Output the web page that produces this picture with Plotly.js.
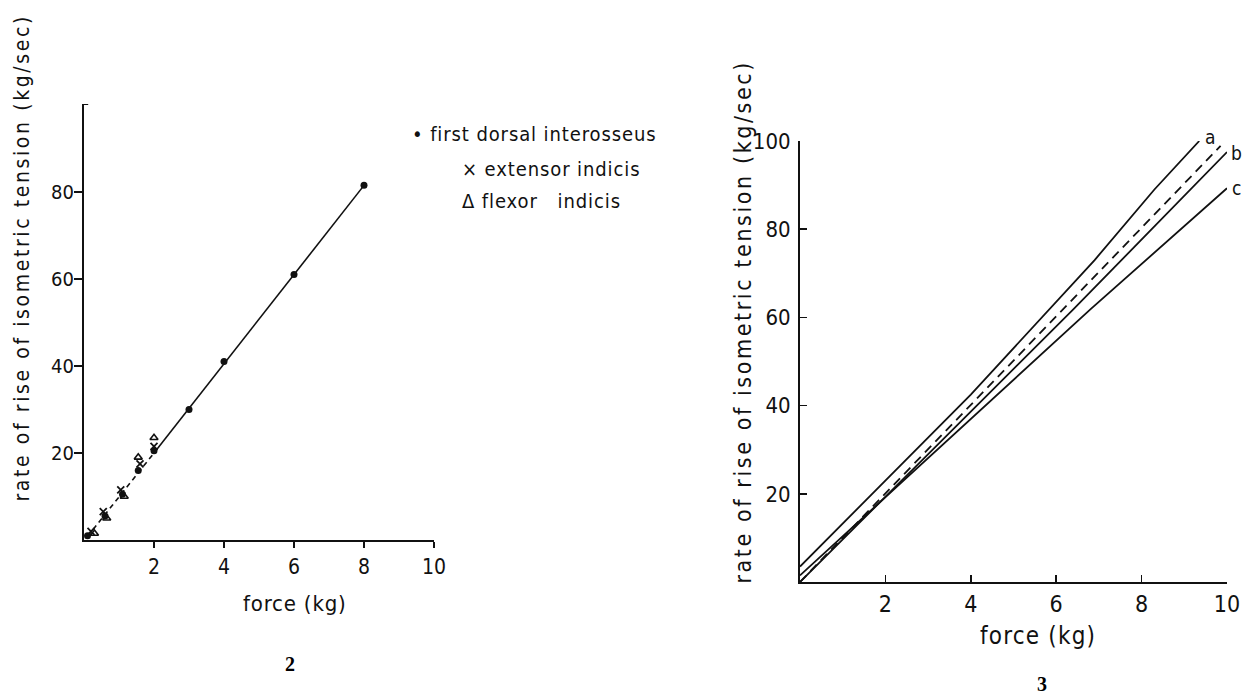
<!DOCTYPE html>
<html>
<head>
<meta charset="utf-8">
<script src="https://cdn.plot.ly/plotly-3.0.1.min.js"></script>
<style>
  html, body { margin: 0; padding: 0; background: #fff; }
  #fig { width: 1242px; height: 697px; }
</style>
</head>
<body>
<div id="fig"></div>
<script>
// ---- Figure 2: rate of rise vs force, three finger muscles ----
const fdiX  = [0.1, 0.6, 1.1, 1.55, 2.0, 3.0, 4.0, 6.0, 8.0];
const fdiY  = [1.0, 5.5, 10.5, 16.0, 20.5, 30.0, 41.0, 61.0, 81.5];
const extX  = [0.2, 0.55, 1.05, 1.6, 2.0];
const extY  = [2.0, 6.5, 11.5, 17.5, 21.5];
const flexX = [0.3, 0.65, 1.15, 1.55, 2.0];
const flexY = [1.5, 5.0, 10.0, 19.0, 23.5];
// regression line: dashed at low force, solid above
const fitDashX  = [0.1, 2.0];
const fitDashY  = [0.8, 20.0];
const fitSolidX = [2.0, 8.0];
const fitSolidY = [20.0, 81.5];

// ---- Figure 3: fitted relations a, b, c and the pooled (dashed) line ----
const lineAX = [0, 4.0, 6.9, 8.3, 9.35];
const lineAY = [3.5, 42.5, 73.0, 89.0, 100.0];
const lineBX = [0, 6.4, 10.0];
const lineBY = [0, 61.8, 97.5];
const lineCX = [0, 6.8, 10.0];
const lineCY = [1.5, 61.8, 89.3];
const meanX  = [0, 6.17, 9.85];
const meanY  = [0, 61.8, 98.9];

const xTicks2 = [2, 4, 6, 8, 10];
const yTicks2 = [20, 40, 60, 80];
const xTicks3 = [2, 4, 6, 8, 10];
const yTicks3 = [20, 40, 60, 80, 100];

const legendLabels = ['first dorsal interosseus', 'extensor indicis', 'flexor   indicis'];
const legendSymbols = ['\u2022', '\u00d7', '\u0394'];
const curveLabels = ['a', 'b', 'c'];
const yTitle = 'rate of rise of isometric tension (kg/sec)';
const xTitle = 'force (kg)';

const FONT = '"DejaVu Sans Condensed", "Liberation Sans Narrow", sans-serif';
const SERIF = '"Liberation Serif", "Times New Roman", serif';
const INK = '#111';

const W = 1242, H = 697;
const px = v => v / W;
const py = v => 1 - v / H;

const traces = [
  { x: fitDashX, y: fitDashY, xaxis: 'x', yaxis: 'y', mode: 'lines',
    line: { color: INK, width: 1.6, dash: '5px,4px' }, name: 'fit (low)' },
  { x: fitSolidX, y: fitSolidY, xaxis: 'x', yaxis: 'y', mode: 'lines',
    line: { color: INK, width: 1.6 }, name: 'fit' },
  { x: fdiX, y: fdiY, xaxis: 'x', yaxis: 'y', mode: 'markers', name: legendLabels[0],
    marker: { symbol: 'circle', size: 7, color: INK } },
  { x: extX, y: extY, xaxis: 'x', yaxis: 'y', mode: 'markers', name: legendLabels[1],
    marker: { symbol: 'x-thin-open', size: 7, color: INK, line: { color: INK, width: 1.8 } } },
  { x: flexX, y: flexY, xaxis: 'x', yaxis: 'y', mode: 'markers', name: legendLabels[2],
    marker: { symbol: 'triangle-up-open', size: 7, color: INK, line: { color: INK, width: 1.6 } } },

  { x: lineAX, y: lineAY, xaxis: 'x2', yaxis: 'y2', mode: 'lines', name: 'a',
    line: { color: INK, width: 1.8 } },
  { x: meanX, y: meanY, xaxis: 'x2', yaxis: 'y2', mode: 'lines', name: 'pooled',
    line: { color: INK, width: 1.8, dash: '9px,6px' } },
  { x: lineBX, y: lineBY, xaxis: 'x2', yaxis: 'y2', mode: 'lines', name: 'b',
    line: { color: INK, width: 1.8 } },
  { x: lineCX, y: lineCY, xaxis: 'x2', yaxis: 'y2', mode: 'lines', name: 'c',
    line: { color: INK, width: 1.8 } }
];

const axisCommon = {
  showgrid: false, zeroline: false, showline: true,
  linecolor: INK, linewidth: 2, tickcolor: INK, tickwidth: 1.6,
  tickmode: 'array', fixedrange: true
};

function note(text, x, y, size, opts) {
  return Object.assign({
    text: text, xref: 'paper', yref: 'paper', x: px(x), y: py(y),
    showarrow: false, xanchor: 'center', yanchor: 'middle',
    font: { family: FONT, size: size, color: INK }
  }, opts || {});
}

// extra tracking (px) for the lettering, by annotation index
const tracking = { 0: 2.6, 1: 0.8, 2: 2.6, 3: 1.2, 4: 0.9, 5: 0.9, 6: 0.9 };

const layout = {
  width: W, height: H,
  margin: { l: 0, r: 0, t: 0, b: 0 },
  paper_bgcolor: '#fff', plot_bgcolor: 'rgba(0,0,0,0)',
  showlegend: false,
  font: { family: FONT, color: INK },
  xaxis: Object.assign({}, axisCommon, {
    domain: [px(84), px(434)], range: [0, 10], anchor: 'y',
    tickvals: xTicks2, ticktext: xTicks2.map(String),
    ticks: 'outside', ticklen: 6, ticklabelstandoff: 1,
    tickfont: { family: FONT, size: 21, color: INK }
  }),
  yaxis: Object.assign({}, axisCommon, {
    domain: [py(540), py(104)], range: [0, 100.2], anchor: 'x',
    tickvals: yTicks2, ticktext: yTicks2.map(String),
    ticks: 'outside', ticklen: 8, ticklabelstandoff: -4,
    tickfont: { family: FONT, size: 20, color: INK }
  }),
  xaxis2: Object.assign({}, axisCommon, {
    domain: [px(800), px(1227)], range: [0, 10], anchor: 'y2',
    tickvals: xTicks3, ticktext: xTicks3.map(String),
    ticks: 'inside', ticklen: 7, ticklabelstandoff: 0,
    tickfont: { family: FONT, size: 23, color: INK }
  }),
  yaxis2: Object.assign({}, axisCommon, {
    domain: [py(582), py(141)], range: [0, 100], anchor: 'x2',
    tickvals: yTicks3, ticktext: yTicks3.map(String),
    ticks: 'inside', ticklen: 7, ticklabelstandoff: 3,
    tickfont: { family: FONT, size: 22, color: INK }
  }),
  shapes: [
    // cap at the top of the left vertical axis
    { type: 'line', xref: 'x', yref: 'y', x0: -0.12, x1: 0.12, y0: 100.2, y1: 100.2,
      line: { color: INK, width: 2 } }
  ],
  annotations: [
    // axis titles
    note(yTitle, 22, 258, 21, { textangle: -90 }),
    note(xTitle, 295, 603, 22),
    note(yTitle, 743, 322, 23, { textangle: -90 }),
    note(xTitle, 1038, 636, 24),
    // key for figure 2
    note(legendSymbols[0] + ' ' + legendLabels[0], 410, 134, 20, { xanchor: 'left', align: 'left' }),
    note(legendSymbols[1] + ' ' + legendLabels[1], 460, 169, 20, { xanchor: 'left', align: 'left' }),
    note(legendSymbols[2] + ' ' + legendLabels[2], 460, 201, 20, { xanchor: 'left', align: 'left' }),
    // curve labels for figure 3
    note(curveLabels[0], 1210, 137, 19),
    note(curveLabels[1], 1236, 153, 19),
    note(curveLabels[2], 1236, 188, 19),
    // figure numbers
    note('<b>2</b>', 290, 664, 20, { font: { family: SERIF, size: 20, color: '#000' } }),
    note('<b>3</b>', 1042, 684, 20, { font: { family: SERIF, size: 20, color: '#000' } })
  ]
};

Plotly.newPlot('fig', traces, layout, { staticPlot: true, displayModeBar: false }).then(() => {
  document.querySelectorAll('#fig .annotation').forEach(g => {
    const i = +g.getAttribute('data-index');
    const t = g.querySelector('text.annotation-text');
    if (t && tracking[i]) t.style.letterSpacing = tracking[i] + 'px';
  });
});
</script>
</body>
</html>
